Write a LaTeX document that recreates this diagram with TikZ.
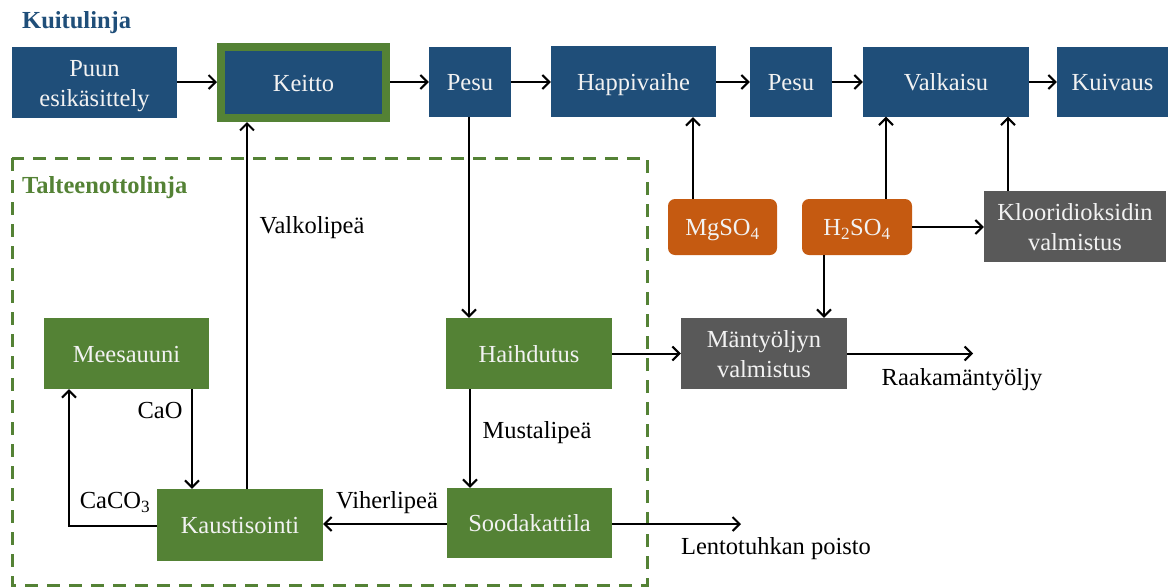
\documentclass[tikz,border=0pt]{standalone}
\usepackage{fontspec}
\setmainfont{Liberation Serif}
\usetikzlibrary{arrows.meta,calc}
\definecolor{kblue}{HTML}{1F4E79}
\definecolor{kgreen}{HTML}{548235}
\definecolor{korange}{HTML}{C55A11}
\definecolor{kgray}{HTML}{595959}
\definecolor{ktext}{HTML}{F2F2F2}
\begin{document}
\begin{tikzpicture}[x=1pt,y=-1pt,
  every node/.style={font=\fontsize{24.5}{30}\selectfont, inner sep=0pt, text height=22pt, text depth=5pt},
  twoline/.style={text height=52pt, text depth=5pt},
  boxbase/.style={draw=none, align=center, text=ktext},
  bluebox/.style={boxbase, fill=kblue},
  greenbox/.style={boxbase, fill=kgreen},
  graybox/.style={boxbase, fill=kgray},
  orangebox/.style={boxbase, fill=korange, rounded corners=7pt},
  arr/.style={line width=2pt, -{Straight Barb[length=7pt,width=14pt,line width=2pt]}},
  lbl/.style={text=black}]
\useasboundingbox (0,0) rectangle (1170,587);

% titles
\node[anchor=base west, text=kblue, font=\fontsize{24.5}{30}\selectfont\bfseries] (t1) at (22,28) {Kuitulinja};
\node[anchor=base west, text=kgreen, font=\fontsize{24.5}{30}\selectfont\bfseries] (t2) at (22,193) {Talteenottolinja};

% dashed region
\draw[kgreen, line width=3pt, dash pattern=on 13pt off 9pt] (12,158) rectangle (647,585);

% top row
\node[bluebox, twoline, minimum width=165pt, minimum height=71pt] (puun) at (94.5,82.5) {Puun\\esikäsittely};
\node[bluebox, draw=kgreen, line width=8pt, minimum width=165pt, minimum height=71pt] (keitto) at (303.5,82.5) {Keitto};
\node[bluebox, minimum width=82pt, minimum height=70pt] (pesua) at (470,81.5) {Pesu};
\node[bluebox, minimum width=165pt, minimum height=71pt] (happi) at (633.5,81.5) {Happivaihe};
\node[bluebox, minimum width=82pt, minimum height=70pt] (pesub) at (791,81.5) {Pesu};
\node[bluebox, minimum width=166pt, minimum height=70pt] (valk) at (946,81.5) {Valkaisu};
\node[bluebox, minimum width=111pt, minimum height=70pt] (kuiv) at (1112.5,81.5) {Kuivaus};

% chemicals
\node[orangebox, minimum width=109pt, minimum height=56pt] (mg) at (722.5,227) {MgSO\textsubscript{4}};
\node[orangebox, minimum width=110pt, minimum height=56pt] (h2) at (857,227) {H\textsubscript{2}SO\textsubscript{4}};
\node[graybox, twoline, minimum width=182pt, minimum height=71pt] (kloori) at (1075,226.5) {Klooridioksidin\\valmistus};

% middle
\node[greenbox, minimum width=166pt, minimum height=71pt] (haih) at (529,353.5) {Haihdutus};
\node[graybox, twoline, minimum width=166pt, minimum height=71pt] (mant) at (764,353.5) {Mäntyöljyn\\valmistus};
\node[greenbox, minimum width=165pt, minimum height=71pt] (mees) at (126.5,353.5) {Meesauuni};

% bottom
\node[greenbox, minimum width=166pt, minimum height=72pt] (kaus) at (240,525) {Kaustisointi};
\node[greenbox, minimum width=165pt, minimum height=70pt] (sooda) at (529.5,523) {Soodakattila};

% helper coordinates
\coordinate (xv) at (247,0);
\coordinate (xp) at (469,0);
\coordinate (xmg) at (693,0);
\coordinate (xh) at (886,0);
\coordinate (xk) at (1008,0);
\coordinate (xhd) at (824,0);
\coordinate (xcao) at (192,0);
\coordinate (xcc) at (69,526);
\coordinate (xm) at (470,0);
\coordinate (raaka) at (973,353.5);
\coordinate (lento) at (741,524);
\coordinate (ytop) at (0,82);
\coordinate (yh2) at (0,227);
\coordinate (yhaih) at (0,353.5);
\coordinate (ysoo) at (0,524);

% top row arrows
\draw[arr] (puun.east |- ytop) -- (keitto.west |- ytop);
\draw[arr] (keitto.east |- ytop) -- (pesua.west |- ytop);
\draw[arr] (pesua.east |- ytop) -- (happi.west |- ytop);
\draw[arr] (happi.east |- ytop) -- (pesub.west |- ytop);
\draw[arr] (pesub.east |- ytop) -- (valk.west |- ytop);
\draw[arr] (valk.east |- ytop) -- (kuiv.west |- ytop);

% verticals
\draw[arr] (kaus.north -| xv) -- (keitto.south -| xv);
\draw[arr] (pesua.south -| xp) -- (haih.north -| xp);
\draw[arr] (mg.north -| xmg) -- (happi.south -| xmg);
\draw[arr] (h2.north -| xh) -- (valk.south -| xh);
\draw[arr] (kloori.north -| xk) -- (valk.south -| xk);
\draw[arr] (h2.east |- yh2) -- (kloori.west |- yh2);
\draw[arr] (h2.south -| xhd) -- (mant.north -| xhd);
\draw[arr] (haih.east |- yhaih) -- (mant.west |- yhaih);
\draw[arr] (mant.east |- yhaih) -- (raaka);
\draw[arr] (mees.south -| xcao) -- (kaus.north -| xcao);
\draw[arr] (kaus.west |- xcc) -- (xcc) -- (mees.south -| xcc);
\draw[arr] (haih.south -| xm) -- (sooda.north -| xm);
\draw[arr] (sooda.west |- ysoo) -- (kaus.east |- ysoo);
\draw[arr] (sooda.east |- lento) -- (lento);

% labels
\node[lbl] (lvalko) at (312,225) {Valkolipeä};
\node[lbl] (lraaka) at (962,377) {Raakamäntyöljy};
\node[lbl] (lcao) at (160,410) {CaO};
\node[lbl] (lcaco) at (115,500) {CaCO\textsubscript{3}};
\node[lbl] (lmusta) at (537,430) {Mustalipeä};
\node[lbl] (lviher) at (387,500) {Viherlipeä};
\node[lbl] (llento) at (776,546) {Lentotuhkan poisto};
\end{tikzpicture}
\end{document}
